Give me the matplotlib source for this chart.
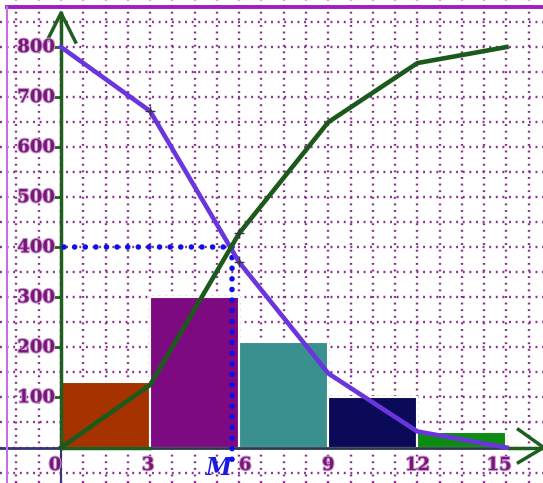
import numpy as np
import matplotlib.pyplot as plt
import matplotlib.patheffects as pe

# class intervals and frequencies
edges = [0, 3, 6, 9, 12, 15]
freq = [130, 300, 210, 100, 30]
bar_colors = ['#a63200', '#7e0a82', '#3a8f8f', '#0a0a58', '#0c8c10']

# ogives
x_pts = [0, 3, 6, 9, 12, 15]
cum_less = [0, 125, 428, 650, 768, 800]
cum_more = [800, 672, 370, 148, 32, 0]

median_x = 5.76
median_y = 400

x_ticks = [0, 3, 6, 9, 12, 15]
y_ticks = [100, 200, 300, 400, 500, 600, 700, 800]

fig = plt.figure(figsize=(5.43, 4.83), dpi=100)
ax = fig.add_axes([0, 0, 1, 1])
ax.set_xlim(-2.054, 16.229)
ax.set_ylim(-70.9, 894)
ax.axis('off')

# dotted grid
grid_kw = dict(color='#86308a', lw=1.7, ls=(0, (0.8, 2.0)), zorder=0)
for gx in np.arange(-1.5, 16.6, 0.75):
    ax.axvline(gx, **grid_kw)
for gy in np.arange(-50, 851, 50):
    ax.axhline(gy, **grid_kw)

# histogram
for i, f in enumerate(freq):
    ax.bar(edges[i], f, width=edges[i + 1] - edges[i], align='edge',
           color=bar_colors[i], edgecolor='white', lw=1.5, zorder=2)

# axes lines
ax.plot([-2.1, 0], [0, 0], color='#34347a', lw=2, zorder=3)
ax.plot([0, 15.3], [0, 0], color='#2c3a50', lw=2, zorder=3)
ax.plot([0, 3], [0, 0], color='#1f5e1f', lw=2.5, zorder=3)
ax.plot([0, 0], [-80, 0], color='#34347a', lw=1.5, zorder=3)
ax.plot([0, 0], [0, 868], color='#1f5e1f', lw=2.5, zorder=3)
ax.plot([-0.49, 0, 0.49], [810, 868, 810], color='#1f5e1f', lw=2.5, zorder=3)
ax.plot([15.1, 16.25], [0, 0], color='#1f5e1f', lw=2.5, zorder=3, clip_on=False)
ax.plot([15.4, 16.25, 15.4], [36, 0, -30], color='#1f5e1f', lw=2.5, zorder=3, clip_on=False)

# median guide lines
dot_kw = dict(color='#1010e6', lw=4, ls=(0, (0.01, 1.9)), dash_capstyle='round', zorder=4)
ax.plot([0.1, median_x], [median_y, median_y], **dot_kw)
ax.plot([median_x, median_x], [median_y, -28], **dot_kw)

# ogive curves
ax.plot(x_pts, cum_more, color='#6a35dc', lw=3.3, zorder=5)
ax.plot(x_pts, cum_less, color='#1c5a1c', lw=3.3, zorder=5)
ax.plot([3, 6, 6], [cum_more[1], cum_less[2], cum_more[2]], '+', color='#333344',
        ms=7, mew=1, zorder=6)

# tick labels
lab_kw = dict(color='#7a1677', fontsize=13, fontweight='heavy', family='DejaVu Serif',
              zorder=7, path_effects=[pe.withStroke(linewidth=1.5, foreground='#c89ad0')])
for yt in y_ticks:
    ax.plot([-0.22, 0], [yt, yt], color='#1f5e1f', lw=2, zorder=3)
    ax.text(-0.2, yt, str(yt), ha='right', va='center', **lab_kw)
x_lab_pos = [-0.2, 2.93, 6.2, 9.0, 12.0, 14.75]
for xt, xp in zip(x_ticks, x_lab_pos):
    ax.text(xp, -35, str(xt), ha='center', va='center', **lab_kw)

ax.text(5.3, -40, 'M', color='#1a1ae0', fontsize=17, fontweight='bold',
        style='italic', family='DejaVu Serif', ha='center', va='center', zorder=8)

# frame
ax.plot([0.012, 1], [0.9855, 0.9855], transform=ax.transAxes, color='#a41cc4',
        lw=2.8, clip_on=False, zorder=9)
ax.plot([0.012, 0.012], [0, 0.9855], transform=ax.transAxes, color='#c070e0',
        lw=1.5, clip_on=False, zorder=9)

plt.savefig('out.png', dpi=100)
